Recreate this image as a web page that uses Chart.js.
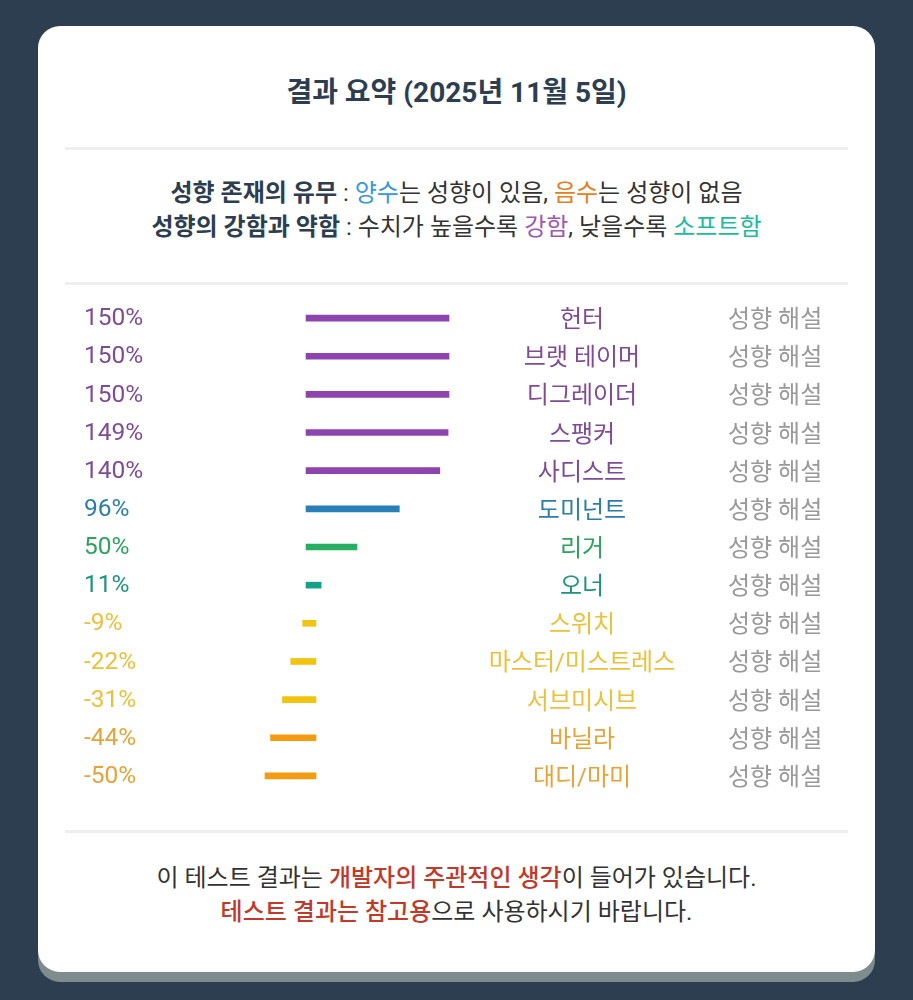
<!DOCTYPE html>
<html lang="ko">
<head>
<meta charset="utf-8">
<script src="https://cdn.jsdelivr.net/npm/chart.js@4/dist/chart.umd.min.js"></script>
<style>
  html, body { margin: 0; padding: 0; }
  body { width: 913px; height: 1000px; background: #2c3e50; position: relative; overflow: hidden;
         font-family: Roboto, "Noto Sans CJK KR", sans-serif; }
  .card { position: absolute; left: 38px; top: 26px; width: 837px; height: 946px; background: #fff;
          border-radius: 22px; box-shadow: 0 10px 0 #7f8c8d; }
  .title { position: absolute; left: 0; width: 100%; top: 47px; height: 40px; line-height: 40px; text-align: center;
           font-size: 28px; font-weight: 700; color: #2c3e50; }
  .hr { position: absolute; left: 27px; width: 783px; height: 3px; background: #eeeeee; }
  .legend, .footer { position: absolute; left: 0; width: 100%; text-align: center; font-size: 24px; line-height: 34px; color: #333; }
  .legend b { color: #2c3e50; font-weight: 700; }
  .footer .red { color: #c0392b; font-weight: 500; }
  .c-blue { color: #3498db; } .c-orange { color: #e67e22; } .c-purple { color: #9b59b6; } .c-teal { color: #1abc9c; }
  #chartWrap { position: absolute; left: 27px; top: 273px; width: 783px; height: 496px; }
</style>
</head>
<body>
<div class="card">
  <div class="title">결과 요약 (2025년 11월 5일)</div>
  <div class="hr" style="top:121px"></div>
  <div class="legend" style="top:150px">
    <div><b>성향 존재의 유무</b> : <span class="c-blue">양수</span>는 성향이 있음, <span class="c-orange">음수</span>는 성향이 없음</div>
    <div><b>성향의 강함과 약함</b> : 수치가 높을수록 <span class="c-purple">강함</span>, 낮을수록 <span class="c-teal">소프트함</span></div>
  </div>
  <div class="hr" style="top:256px"></div>
  <div id="chartWrap"><canvas id="chart"></canvas></div>
  <div class="hr" style="top:804px"></div>
  <div class="footer" style="top:835px">
    <div>이 테스트 결과는 <span class="red">개발자의 주관적인 생각</span>이 들어가 있습니다.</div>
    <div><span class="red">테스트 결과는 참고용</span>으로 사용하시기 바랍니다.</div>
  </div>
</div>
<script>
// ---- data ----
const categories = ["헌터", "브랫 테이머", "디그레이더", "스팽커", "사디스트", "도미넌트", "리거", "오너",
                    "스위치", "마스터/미스트레스", "서브미시브", "바닐라", "대디/마미"];
const values = [150, 150, 150, 149, 140, 96, 50, 11, -9, -22, -31, -44, -50];
const valueLabels = values.map(v => v + "%");
const sideLabel = "성향 해설";
const colors = ["#8e44ad", "#8e44ad", "#8e44ad", "#8e44ad", "#8e44ad", "#2980b9", "#27ae60", "#16a085",
                "#f1c40f", "#f1c40f", "#f1c40f", "#f39c12", "#f39c12"];
const textColors = ["#7f4b96", "#7f4b96", "#7f4b96", "#7f4b96", "#7f4b96", "#2c7ea6", "#2ea35e", "#1b9480",
                    "#ebc03a", "#ebc03a", "#ebc03a", "#e6a438", "#e6a438"];

// ---- style constants ----
const ZERO_PX = 246;      // canvas x of zero
const PX_PER_UNIT = 0.92; // pixels per percent
const CANVAS_W = 783;
const STUB = 5.4;         // visual stub added at the zero end of each bar

const barData = values.map(v => v >= 0 ? [-STUB, v] : [v, STUB]);

const labelPlugin = {
  id: "rowLabels",
  afterDatasetsDraw(chart) {
    const ctx = chart.ctx;
    const meta = chart.getDatasetMeta(0);
    const left = chart.chartArea.left;
    ctx.save();
    ctx.textBaseline = "middle";
    meta.data.forEach((bar, i) => {
      const y = bar.y;
      ctx.fillStyle = textColors[i];
      ctx.font = '24.5px Roboto, "Noto Sans CJK KR", sans-serif';
      ctx.textAlign = "left";
      ctx.fillText(valueLabels[i], left + 19, y + 1);
      ctx.font = '24px Roboto, "Noto Sans CJK KR", sans-serif';
      ctx.textAlign = "center";
      ctx.fillText(categories[i], left + 517, y + 3);
      ctx.fillStyle = "#999999";
      ctx.textAlign = "left";
      ctx.fillText(sideLabel, left + 663, y + 3);
    });
    ctx.restore();
  }
};

new Chart(document.getElementById("chart"), {
  type: "bar",
  data: {
    labels: categories,
    datasets: [{
      data: barData,
      backgroundColor: colors,
      borderWidth: 0,
      barThickness: 6,
      borderSkipped: false
    }]
  },
  options: {
    indexAxis: "y",
    responsive: true,
    maintainAspectRatio: false,
    animation: false,
    layout: { padding: 0 },
    plugins: { legend: { display: false }, tooltip: { enabled: false } },
    scales: {
      x: { type: "linear", display: false, min: -ZERO_PX / PX_PER_UNIT, max: (CANVAS_W - ZERO_PX) / PX_PER_UNIT, grid: { display: false } },
      y: { type: "category", display: false, offset: true, grid: { display: false } }
    }
  },
  plugins: [labelPlugin]
});
</script>
</body>
</html>
